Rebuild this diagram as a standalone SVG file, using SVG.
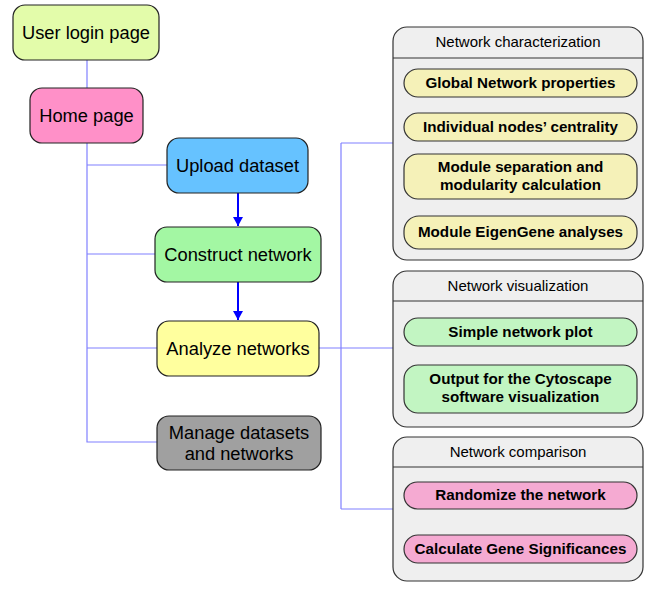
<svg xmlns="http://www.w3.org/2000/svg" width="653" height="590" viewBox="0 0 653 590">
<style>
text{font-family:"Liberation Sans",Arial,sans-serif;fill:#000;text-anchor:middle}
.main{font-size:18.3px}
.hdr{font-size:15px}
.item{font-size:15.2px;font-weight:bold}
.nb{stroke:#222;stroke-width:1.2}
.panel{fill:#efefef;stroke:#333;stroke-width:1.2}
.sep{stroke:#333;stroke-width:1.2}
.conn{stroke:#8080ff;stroke-width:1.2;fill:none}
.arr{stroke:#0000ff;stroke-width:2;fill:none}
.y{fill:#f5f1b8;stroke:#333;stroke-width:1.2}
.g{fill:#c2f5c2;stroke:#333;stroke-width:1.2}
.p{fill:#f5aad2;stroke:#333;stroke-width:1.2}
</style>
<defs>
<marker id="ah" markerWidth="10" markerHeight="10" refX="9" refY="5" orient="auto" markerUnits="userSpaceOnUse">
<path d="M0,0 L9,5 L0,10 Z" fill="#0000ff"/>
</marker>
</defs>
<g id="connectors">
<path class="conn" d="M87,60 V442 H157 M87,165 H167 M87,254 H155 M87,348 H157"/>
<path class="conn" d="M319,348 H341 M341,143 V509 M341,143 H393 M341,348 H393 M341,509 H393"/>
<path class="arr" d="M238,193 V226" marker-end="url(#ah)"/>
<path class="arr" d="M238,282 V320" marker-end="url(#ah)"/>
</g>
<g id="user-login">
<rect class="nb" x="13" y="5" width="146" height="55" rx="12" fill="#e3fcaa"/>
<text class="main" x="86" y="39">User login page</text>
</g>
<g id="home">
<rect class="nb" x="30" y="88" width="113" height="55" rx="12" fill="#ff90c8"/>
<text class="main" x="86.5" y="122">Home page</text>
</g>
<g id="upload">
<rect class="nb" x="167" y="138" width="141" height="55" rx="12" fill="#66c2ff"/>
<text class="main" x="237.5" y="172">Upload dataset</text>
</g>
<g id="construct">
<rect class="nb" x="155" y="227" width="166" height="55" rx="12" fill="#a3f7a3"/>
<text class="main" x="238" y="261">Construct network</text>
</g>
<g id="analyze">
<rect class="nb" x="157" y="321" width="162" height="55" rx="12" fill="#ffff9e"/>
<text class="main" x="238" y="355">Analyze networks</text>
</g>
<g id="manage">
<rect class="nb" x="157" y="416" width="164" height="54" rx="12" fill="#a0a0a0"/>
<text class="main" x="239" y="439">Manage datasets</text>
<text class="main" x="239" y="460">and networks</text>
</g>
<g id="net-char">
<rect class="panel" x="393" y="27" width="250" height="233" rx="14"/>
<line class="sep" x1="393" y1="58" x2="643" y2="58"/>
<text class="hdr" x="518" y="47">Network characterization</text>
</g>
<g id="global">
<rect class="y" x="404" y="69" width="233" height="28" rx="14"/>
<text class="item" x="520.5" y="88">Global Network properties</text>
</g>
<g id="individual">
<rect class="y" x="404" y="113" width="233" height="28" rx="14"/>
<text class="item" x="520.5" y="132">Individual nodes’ centrality</text>
</g>
<g id="module-sep">
<rect class="y" x="404" y="154" width="233" height="45" rx="14"/>
<text class="item" x="520.5" y="172">Module separation and</text>
<text class="item" x="520.5" y="190">modularity calculation</text>
</g>
<g id="eigengene">
<rect class="y" x="404" y="216" width="233" height="33" rx="15"/>
<text class="item" x="520.5" y="237">Module EigenGene analyses</text>
</g>
<g id="net-vis">
<rect class="panel" x="393" y="271" width="250" height="156" rx="14"/>
<line class="sep" x1="393" y1="301" x2="643" y2="301"/>
<text class="hdr" x="518" y="291">Network visualization</text>
</g>
<g id="simple-plot">
<rect class="g" x="404" y="318" width="233" height="28" rx="14"/>
<text class="item" x="520.5" y="337">Simple network plot</text>
</g>
<g id="cytoscape">
<rect class="g" x="404" y="365" width="233" height="48" rx="14"/>
<text class="item" x="520.5" y="384">Output for the Cytoscape</text>
<text class="item" x="520.5" y="402">software visualization</text>
</g>
<g id="net-comp">
<rect class="panel" x="393" y="437" width="250" height="144" rx="14"/>
<line class="sep" x1="393" y1="467" x2="643" y2="467"/>
<text class="hdr" x="518" y="457">Network comparison</text>
</g>
<g id="randomize">
<rect class="p" x="404" y="482" width="233" height="27" rx="13.5"/>
<text class="item" x="520.5" y="500">Randomize the network</text>
</g>
<g id="gene-sig">
<rect class="p" x="404" y="535" width="233" height="28" rx="14"/>
<text class="item" x="520.5" y="554">Calculate Gene Significances</text>
</g>
</svg>
